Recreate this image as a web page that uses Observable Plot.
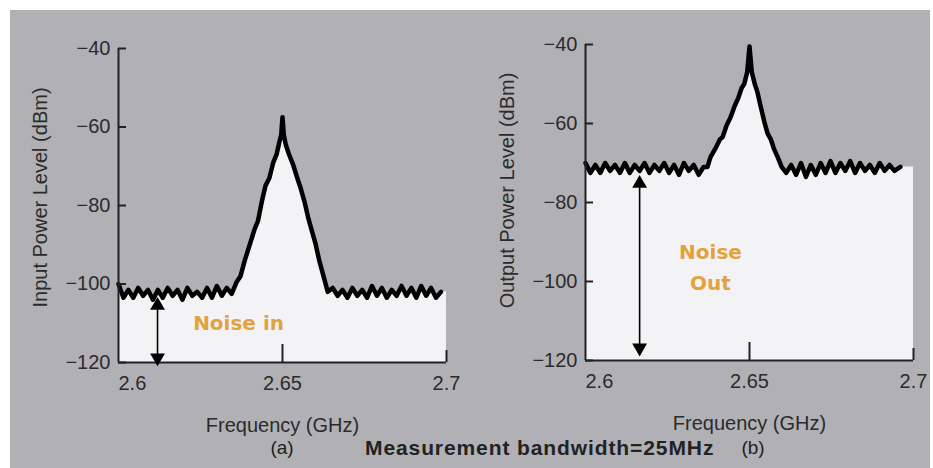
<!DOCTYPE html>
<html>
<head>
<meta charset="utf-8">
<script src="https://cdn.jsdelivr.net/npm/d3@7"></script>
<script src="https://cdn.jsdelivr.net/npm/@observablehq/plot@0.6"></script>
<style>
  html, body { margin: 0; padding: 0; background: #fff; }
  #page { position: relative; width: 933px; height: 468px; overflow: hidden; background: #fff; font-family: "Liberation Sans", Arial, sans-serif; }
  #bg { position: absolute; left: 10px; top: 10px; width: 920px; height: 458px; background: #b1b1b5; }
  .panel { position: absolute; top: 0; }
  .cap { position: absolute; color: #1e1e1e; white-space: nowrap; line-height: 1; }
</style>
</head>
<body>
<div id="page">
  <div id="bg"></div>
  <div id="pa" class="panel" style="left:0px"></div>
  <div id="pb" class="panel" style="left:466px"></div>
  <div class="cap" style="left:282px; top:438px; font-size:19px; transform:translateX(-50%)">(a)</div>
  <div class="cap" style="left:365px; top:437px; font-size:21px; font-weight:bold; letter-spacing:0.9px; color:#222">Measurement bandwidth=25MHz</div>
  <div class="cap" style="left:753px; top:438px; font-size:19px; transform:translateX(-50%)">(b)</div>
</div>
<script>
// ---- data ----
const xTicks = [2.6, 2.65, 2.7];
const xTickLabels = ["2.6", "2.65", "2.7"];
const yTicks = [-120, -100, -80, -60, -40];

const freqIn = [
  2.6000,2.6015,2.6030,2.6045,2.6060,2.6075,2.6090,2.6105,2.6120,2.6135,2.6150,2.6165,2.6180,2.6195,2.6210,2.6225,2.6240,2.6255,2.6270,2.6285,2.6300,2.6315,2.6330,2.6345,2.6360,
  2.6372,2.6385,2.6400,2.6415,2.6425,2.6437,2.6448,2.6460,2.6472,2.6482,2.6490,2.6496,2.6500,2.6504,2.6510,2.6520,2.6532,2.6545,2.6555,2.6567,2.6578,2.6588,2.6600,2.6612,2.6625,2.6638,
  2.6653,2.6668,2.6683,2.6698,2.6713,2.6728,2.6743,2.6758,2.6773,2.6788,2.6803,2.6818,2.6833,2.6848,2.6863,2.6878,2.6893,2.6908,2.6923,2.6938,2.6953,2.6968,2.6983
];
const levelIn = [
  -100,-103.5,-101.5,-103.5,-101,-103,-101.5,-104,-101.5,-103.5,-101,-103,-101.5,-104,-101,-103,-102,-103.5,-101,-103.5,-100.5,-103,-101,-102.5,-99.5,
  -98,-94,-90,-86,-84,-79,-75,-73,-69,-67,-64,-62,-57.5,-62,-64.5,-67,-69.5,-73,-75.5,-79,-83,-86,-89.5,-94,-98,-102,
  -101,-103,-101.5,-103.5,-101,-103,-101.5,-103.5,-100.5,-103,-101,-103.5,-101.5,-103,-100.5,-103,-101,-103.5,-100.5,-103,-101,-103.5,-102
];

const freqOut = [
  2.6000,2.6015,2.6030,2.6045,2.6060,2.6075,2.6090,2.6105,2.6120,2.6135,2.6150,2.6165,2.6180,2.6195,2.6210,2.6225,2.6240,2.6255,2.6270,2.6285,2.6300,2.6315,2.6330,2.6345,2.6360,
  2.6372,2.6381,2.6395,2.6410,2.6418,2.6430,2.6442,2.6455,2.6466,2.6476,2.6484,2.6493,2.6500,2.6507,2.6516,2.6524,2.6535,2.6545,2.6555,2.6565,2.6575,2.6586,2.6598,
  2.6612,2.6627,2.6642,2.6657,2.6672,2.6687,2.6702,2.6717,2.6732,2.6747,2.6762,2.6777,2.6792,2.6807,2.6822,2.6837,2.6852,2.6867,2.6882,2.6897,2.6912,2.6927,2.6942,2.6960
];
const levelOut = [
  -70,-72.5,-70.5,-72.5,-70,-72,-70.5,-72.5,-70,-72.5,-70.5,-72,-70,-72.5,-70.5,-72,-70,-72.5,-70.5,-73,-70,-72,-70.5,-73,-71,
  -71,-68.5,-66.5,-64,-63.5,-60.5,-58.5,-55.5,-53.5,-51,-50,-47,-40.5,-47,-50,-52,-56,-59.5,-62.5,-64,-66.5,-68.5,-71,
  -72.5,-70.5,-73,-70,-73.5,-70.5,-73,-70,-72.5,-69.5,-72.5,-70,-72,-69.5,-72.5,-70,-72,-70.5,-72.5,-70,-72,-70.5,-72,-71
];

const noiseArrowIn = {x: 2.6119, top: -105.5, bottom: -118.8};
const noiseArrowOut = {x: 2.6165, top: -75.2, bottom: -116.8};
const labelsIn = [{x: 2.6366, y: -110, text: "Noise in"}];
const labelsOut = [{x: 2.6381, y: -92.8, text: "Noise"}, {x: 2.6381, y: -100.6, text: "Out"}];

const yLabelIn = "Input Power Level (dBm)";
const yLabelOut = "Output Power Level (dBm)";
const xLabel = "Frequency (GHz)";

// ---- drawing ----
const INK = "#222";
const FILL = "#f3f3f5";
const ORANGE = "#e2a23c";
const TXT = "#2b2b2b";

function panel({freq, level, arrow, labels, yLabel, width, height, mTop, mBottom, mLeft, mRight, yLabDy}) {
  const curve = freq.map((f, i) => ({f, v: level[i]}));
  const areaData = curve.concat([{f: xTicks[2], v: level[level.length - 1]}]);
  const plotH = height - mTop - mBottom;
  const plotW = width - mLeft - mRight;
  const xt = xTicks.map((t, i) => ({t, s: xTickLabels[i]}));
  return Plot.plot({
    width, height,
    marginTop: mTop, marginBottom: mBottom, marginLeft: mLeft, marginRight: mRight,
    x: {domain: [xTicks[0], xTicks[2]], axis: null},
    y: {domain: [yTicks[0], yTicks[yTicks.length - 1]]},
    style: {background: "transparent", fontFamily: "'Liberation Sans', Arial, sans-serif", overflow: "visible"},
    marks: [
      Plot.areaY(areaData, {x: "f", y1: yTicks[0], y2: "v", fill: FILL}),
      Plot.line(curve, {x: "f", y: "v", stroke: "#000", strokeWidth: 4.5, strokeLinejoin: "round", strokeLinecap: "round"}),
      // axis lines
      Plot.ruleX([xTicks[0]], {stroke: INK, strokeWidth: 2}),
      Plot.ruleY([yTicks[0]], {stroke: INK, strokeWidth: 2}),
      // inward y ticks
      Plot.ruleY(yTicks, {stroke: INK, strokeWidth: 2, insetRight: plotW - 8}),
      // upward x ticks
      Plot.ruleX([xTicks[1]], {stroke: INK, strokeWidth: 2, insetTop: plotH - 18}),
      Plot.ruleX([xTicks[2]], {stroke: INK, strokeWidth: 2, insetTop: plotH - 12}),
      Plot.axisY({ticks: yTicks, tickSize: 0, tickPadding: 8, fontSize: 20, color: TXT, label: null,
        tickFormat: d => (d < 0 ? "\u2212" + (-d) : String(d))}),
      // x tick labels
      Plot.text(xt.slice(0, 1), {x: "t", text: "s", frameAnchor: "bottom", textAnchor: "start", lineAnchor: "middle", dy: 21, fontSize: 20, fill: TXT}),
      Plot.text(xt.slice(1), {x: "t", text: "s", frameAnchor: "bottom", textAnchor: "middle", lineAnchor: "middle", dy: 21, fontSize: 20, fill: TXT}),
      // axis titles
      Plot.text([yLabel], {text: d => d, frameAnchor: "left", textAnchor: "middle", lineAnchor: "middle", rotate: -90, dx: -78, dy: yLabDy, fontSize: 20, fill: TXT}),
      Plot.text([xLabel], {text: d => d, frameAnchor: "bottom", textAnchor: "middle", lineAnchor: "middle", dy: 63, fontSize: 20, fill: TXT}),
      // double-headed arrow
      Plot.link([arrow], {x1: "x", x2: "x", y1: "top", y2: "bottom", stroke: "#000", strokeWidth: 1.6}),
      Plot.dot([arrow], {x: "x", y: "top", symbol: "triangle", r: 5.5, fill: "#000", stroke: null}),
      Plot.dot([arrow], {x: "x", y: "bottom", symbol: "triangle", r: 5.5, fill: "#000", stroke: null, rotate: 180}),
      Plot.text(labels, {x: "x", y: "y", text: "text", fill: ORANGE, fontSize: 20, fontWeight: "bold", fontFamily: "'DejaVu Sans', sans-serif"})
    ]
  });
}

document.getElementById("pa").append(panel({
  freq: freqIn, level: levelIn, arrow: noiseArrowIn, labels: labelsIn, yLabel: yLabelIn,
  width: 466, height: 468, mTop: 48, mBottom: 106, mLeft: 118, mRight: 20, yLabDy: -8
}));
document.getElementById("pb").append(panel({
  freq: freqOut, level: levelOut, arrow: noiseArrowOut, labels: labelsOut, yLabel: yLabelOut,
  width: 467, height: 468, mTop: 44, mBottom: 108, mLeft: 119, mRight: 20, yLabDy: -12
}));
</script>
</body>
</html>
